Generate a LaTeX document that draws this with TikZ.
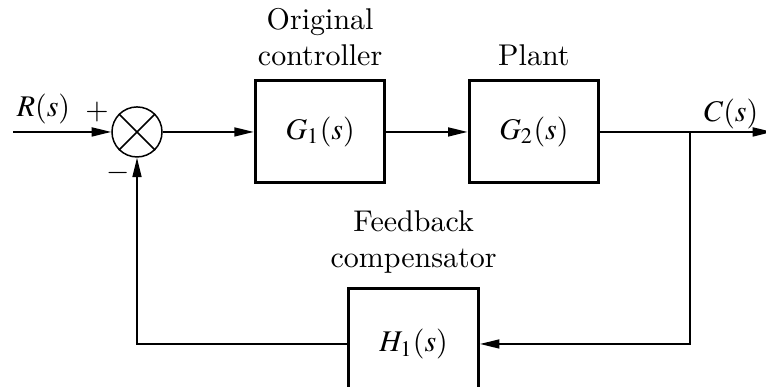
\documentclass[tikz,border=0pt]{standalone}
\usepackage{mathptmx}
\usetikzlibrary{positioning,calc,arrows.meta}

\begin{document}
\begin{tikzpicture}[
    node distance=1cm,
    block/.style={rectangle, draw, line width=1pt, minimum width=1.52cm,
                  minimum height=1.195cm, inner sep=0pt},
    sum/.style={circle, draw, line width=0.5pt, minimum size=0.586cm, inner sep=0pt},
    lbl/.style={align=center},
    arr/.style={-{Triangle[length=6.5pt,width=3pt]}, line width=0.55pt}
  ]
    \useasboundingbox (-1.605,-2.987) rectangle (7.369,1.546);
    \clip (-1.605,-2.987) rectangle (7.369,1.546);

    \node[sum] (sum) {};
    \draw[line width=0.5pt] (sum.north west) -- (sum.south east)
                            (sum.north east) -- (sum.south west);

    \coordinate[left=1.148cm of sum] (in);
    \node[block] (g1) [right=1.066cm of sum] {$G_1(s)$};
    \node[block] (g2) [right=0.949cm of g1]   {$G_2(s)$};
    \coordinate[right=1.054cm of g2] (branch);
    \coordinate[right=0.961cm of branch] (out);
    \coordinate[below=2.484cm of branch] (fb);
    \node[block, minimum height=1.31cm] (h1) at ($(sum |- fb)!0.5!(fb)$) {$H_1(s)$};

    \node[lbl] (ctrl)  [above=1pt of g1] {Original\\controller};
    \node[lbl] (plant) [above=1pt of g2] {Plant};
    \node[lbl] (comp)  [above=1pt of h1] {Feedback\\compensator};

    \node[anchor=south west, inner sep=1pt] (rlab) at ([yshift=1.5pt]in) {$R(s)$};
    \node[inner sep=0pt, anchor=south] (clab) at ([yshift=0.8pt]$(branch)!0.5!(out)$) {$C(s)$};
    \node[inner sep=0pt] (plus)  at ([shift={(-13.3pt,6.7pt)}]sum)   {$+$};
    \node[inner sep=0pt] (minus) at ([shift={(-6.3pt,-13.7pt)}]sum)  {$-$};

    \draw[arr] (in)     -- (sum);
    \draw[arr] (sum)    -- (g1);
    \draw[arr] (g1)     -- (g2);
    \draw[arr] (g2)     -- (out);
    \draw[arr] (branch) |- (h1);
    \draw[arr] (h1)     -| (sum);
  \end{tikzpicture}
\end{document}
